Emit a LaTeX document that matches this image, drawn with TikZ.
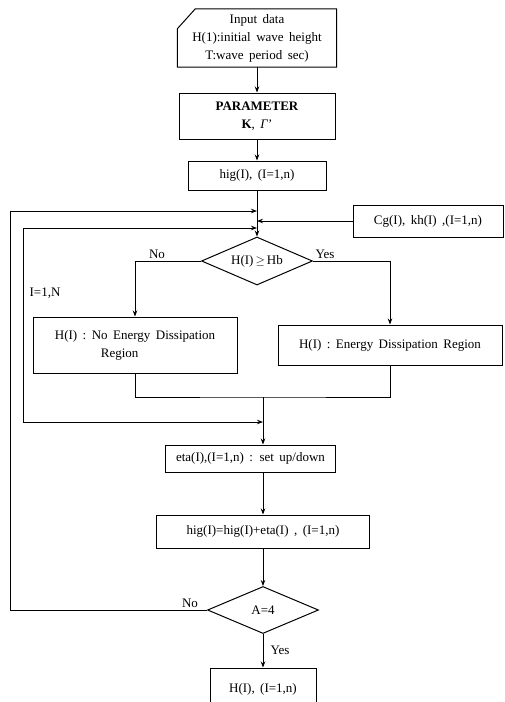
\documentclass[tikz,border=0pt]{standalone}
\usepackage{fontspec}
\setmainfont{Liberation Serif}
\usetikzlibrary{calc,arrows.meta,shapes.geometric}
\newcommand\chartfont{\fontsize{13}{18}\selectfont\spaceskip=0.42em plus 0.1em\relax}
\tikzset{
	box/.style={draw, line width=1pt, align=center, inner sep=2pt},
	decision/.style={draw, diamond, aspect=2.3, line width=1pt, inner sep=0pt},
	wire/.style={line width=0.8pt},
	flow/.style={wire, -{Stealth[length=6pt,width=4.5pt]}},
	flowboth/.style={wire, {Stealth[length=6pt,width=4.5pt]}-{Stealth[length=6pt,width=4.5pt]}},
	tag/.style={inner sep=1pt, anchor=south}
}

\begin{document}
\begin{tikzpicture}[x=1pt, y=-1pt, font=\chartfont]
			%%%%% START %%%%%
			\useasboundingbox (0,0) rectangle (505,702);
			\clip (0,0) rectangle (505,702);
			
			\node[minimum width=159, minimum height=58, align=center, inner sep=0pt] (input) at (257,38) {Input data\\H(1):initial wave height\\T:wave period sec)};
			\draw[line width=1pt] ($(input.north west)+(18,0)$) -- (input.north east) -- (input.south east) -- (input.south west) -- ($(input.north west)+(0,20)$) -- cycle;
			
			\node[box, minimum width=156, minimum height=46] (param) at (257,116) {\textbf{PARAMETER}\\\textbf{K}, \textit{Γ}'};
			\node[box, minimum width=138, minimum height=29] (hig) at (257,175.5) {hig(I), (I=1,n)};
			\node[box, minimum width=150, minimum height=32] (cg) at (428,221) {Cg(I), kh(I) ,(I=1,n)};
			
			\node[decision, minimum width=111, minimum height=48] (hb) at (257,261) {H(I)$\,\geq\,$Hb};
			\node[tag] (no1) at (157,260) {No};
			\node[tag] (yes1) at (325,260) {Yes};
			\node (loopvar) at (45,293) {I=1,N};
			
			\node[box, minimum width=204, minimum height=56, align=left] (nodiss) at (135,345) {H(I) : No Energy Dissipation\\\hspace*{46pt}Region};
			\node[box, minimum width=224, minimum height=40] (diss) at (390,345) {H(I) : Energy Dissipation Region};
			
			\node[box, minimum width=170, minimum height=27] (eta) at (250.5,458.5) {eta(I),(I=1,n) : set up/down};
			\node[box, minimum width=213, minimum height=33] (hig2) at (263,531.5) {hig(I)=hig(I)+eta(I) , (I=1,n)};
			
			\node[decision, minimum width=111, minimum height=47] (a4) at (263,610) {A=4};
			\node[tag] (no2) at (190,609) {No};
			\node (yes2) at (280,650) {Yes};
			\node[box, minimum width=106, minimum height=42] (out) at (263,689) {H(I), (I=1,n)};
			
			\coordinate (jA) at (257,211);
			\coordinate (jB) at (257,221);
			\coordinate (jC) at (257,228);
			\coordinate (mrg) at (263,397);
			\coordinate (jD) at (263,422);
			\coordinate (outer) at (10,610);
			\coordinate (inner) at (23,422);
			
			\draw[flow] (input) -- (param);
			\draw[flow] (param) -- (hig);
			\draw[flow] (hig) -- (hb);
			\draw[flow] (cg) -- (jB);
			
			\draw[flow] (hb) -| (nodiss);
			\draw[flow] (hb) -| (diss);
			\draw[wire] (nodiss) |- (mrg) -| (diss);
			
			\draw[flow] (mrg) -- (mrg |- eta.north);
			\draw[flow] (eta.south -| mrg) -- (mrg |- hig2.north);
			\draw[flow] (hig2) -- (a4);
			\draw[flow] (a4) -- (out);
			
			\draw[flow] (a4) -- (outer) -- (outer |- jA) -- (jA);
			\draw[flowboth] (jC) -- (jC -| inner) -- (inner) -- (jD);
			
			%%%%% END %%%%%
\end{tikzpicture}
\end{document}
